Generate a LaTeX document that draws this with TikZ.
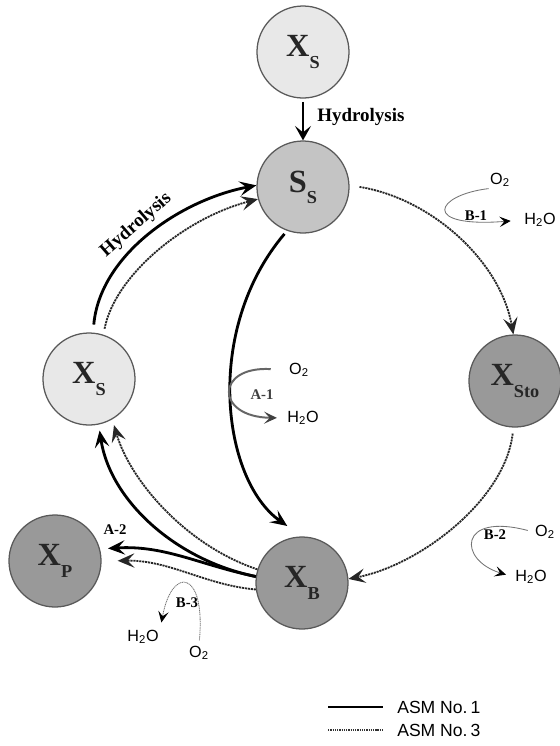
\documentclass[tikz,border=0pt]{standalone}
\usepackage{fontspec}
\setmainfont{Liberation Serif}
\newfontfamily\chemfont{Liberation Sans}
\usetikzlibrary{arrows.meta}
\newcommand{\spc}[2]{\fontsize{23}{23}\selectfont\bfseries #1\raisebox{-8pt}{\fontsize{13}{13}\selectfont #2}}
\begin{document}
\begin{tikzpicture}[
  x=0.025cm, y=-0.025cm,
  species/.style={circle, draw=black!65, line width=0.9pt, minimum size=2.3cm, inner sep=0pt, text=black!85},
  light/.style={species, fill=black!9},
  mid/.style={species, fill=black!23},
  dark/.style={species, fill=black!40},
  asmone/.style={line width=2pt, -{Stealth[length=4.2mm,width=3.6mm,inset=1.7mm]}},
  asmthree/.style={line width=1.3pt, black!85, dash pattern=on 1.5pt off 0.6pt, -{Stealth[length=4.2mm,width=3.6mm,inset=1.7mm]}},
  resp/.style={line width=0.6pt, black!55, -{Stealth[length=2.8mm,width=2.6mm,inset=1.2mm,color=black]}},
  tag/.style={font=\bfseries\fontsize{10.5}{10.5}\selectfont, inner sep=1pt},
  chem/.style={font=\chemfont\fontsize{11.5}{11.5}\selectfont, inner sep=1pt},
  legend/.style={font=\chemfont\fontsize{12.5}{12.5}\selectfont, anchor=west, inner sep=0pt}
]
\useasboundingbox (0,0) rectangle (560,746);
\node[light] (XsTop) at (303,52) {\spc{X}{S}};
\node[mid] (Ss) at (303,187) {\spc{S}{S}};
\node[light] (Xsl) at (89,379) {\spc{X}{S}};
\node[dark] (Xsto) at (515,381) {\spc{X}{Sto}};
\node[dark] (XB) at (302,583) {\spc{X}{B}};
\node[dark] (XP) at (55,561) {\spc{X}{P}};

\node[font=\bfseries\fontsize{13.5}{13.5}\selectfont, anchor=west, inner sep=0pt] (hydtop) at (317,117) {Hydrolysis};
\node[font=\bfseries\fontsize{13.5}{13.5}\selectfont, rotate=41, inner sep=0pt] (hydarc) at (136,225) {Hydrolysis};

\draw[asmone, line width=1.6pt, -{Stealth[length=3.6mm,width=4mm,inset=1.6mm]}, shorten <=0.08cm] (XsTop) -- (Ss);
\draw[asmone, shorten <=0.2cm] (Xsl.85) .. controls (100,255) and (180,200) .. (Ss.178);
\draw[asmthree, shorten <=0.15cm] (Xsl.72) .. controls (115,275) and (185,218) .. (Ss.195);
\draw[asmone, shorten <=0.1cm, shorten >=0.45cm] (Ss.250) .. controls (203,330) and (222,480) .. (XB.90);
\draw[asmthree, shorten <=0.25cm] (Ss.2) .. controls (430,198) and (500,260) .. (Xsto.92);
\draw[asmthree, shorten <=0.15cm] (Xsto.268) .. controls (505,500) and (420,565) .. (XB.5);
\draw[asmone, shorten >=0.15cm] (XB.172) .. controls (175,560) and (110,500) .. (Xsl.282);
\draw[asmthree, shorten >=0.15cm] (XB.163) .. controls (185,545) and (130,480) .. (Xsl.300);
\draw[asmone, shorten >=0.2cm] (XB.172) .. controls (200,565) and (165,545) .. (XP.15);
\draw[asmthree, shorten >=0.4cm] (XB.188) .. controls (205,585) and (170,560) .. (XP.0);

\node[chem] (O2d) at (299,370) {O\textsubscript{2}};
\node[chem] (H2Od) at (303,418) {H\textsubscript{2}O};
\node[tag, text=black!75] (A1) at (262,395) {A-1};
\draw[line width=1.4pt, black!60, -{Stealth[length=3.2mm,width=3mm,inset=1.4mm,color=black!75]}, shorten <=0.42cm, shorten >=0.22cm] (O2d.west) .. controls (215,366) and (215,417) .. (H2Od.west);

\node[tag] (A2) at (115,530) {A-2};

\node[chem] (O2a) at (500,180) {O\textsubscript{2}};
\node[chem] (H2Oa) at (540,220) {H\textsubscript{2}O};
\node[tag] (B1) at (476,216) {B-1};
\draw[resp, shorten >=0.3cm] (O2a.south west) .. controls (435,195) and (420,228) .. (H2Oa.west);

\node[chem] (O2b) at (545,532) {O\textsubscript{2}};
\node[chem] (H2Ob) at (531,577) {H\textsubscript{2}O};
\node[tag] (B2) at (495,535) {B-2};
\draw[resp, shorten <=0.15cm, shorten >=0.2cm] (O2b.west) .. controls (458,512) and (458,560) .. (H2Ob.west);

\node[chem] (O2c) at (199,653) {O\textsubscript{2}};
\node[chem] (H2Oc) at (143,637) {H\textsubscript{2}O};
\node[tag] (B3) at (187,603) {B-3};
\draw[resp, dash pattern=on 0.8pt off 0.5pt, shorten <=0.1cm, shorten >=0.15cm] (O2c.north) .. controls (206,570) and (172,565) .. (H2Oc.north east);

\node[legend] (lg1) at (397,707) {ASM No.\,1};
\node[legend] (lg3) at (397,730) {ASM No.\,3};
\coordinate (l1) at (328,707);
\coordinate (l3) at (328,730);
\draw[line width=1pt] (l1) -- ([xshift=-0.35cm]lg1.west);
\draw[line width=0.8pt, black!80, dash pattern=on 1pt off 0.6pt] (l3) -- ([xshift=-0.35cm]lg3.west);
\end{tikzpicture}
\end{document}
